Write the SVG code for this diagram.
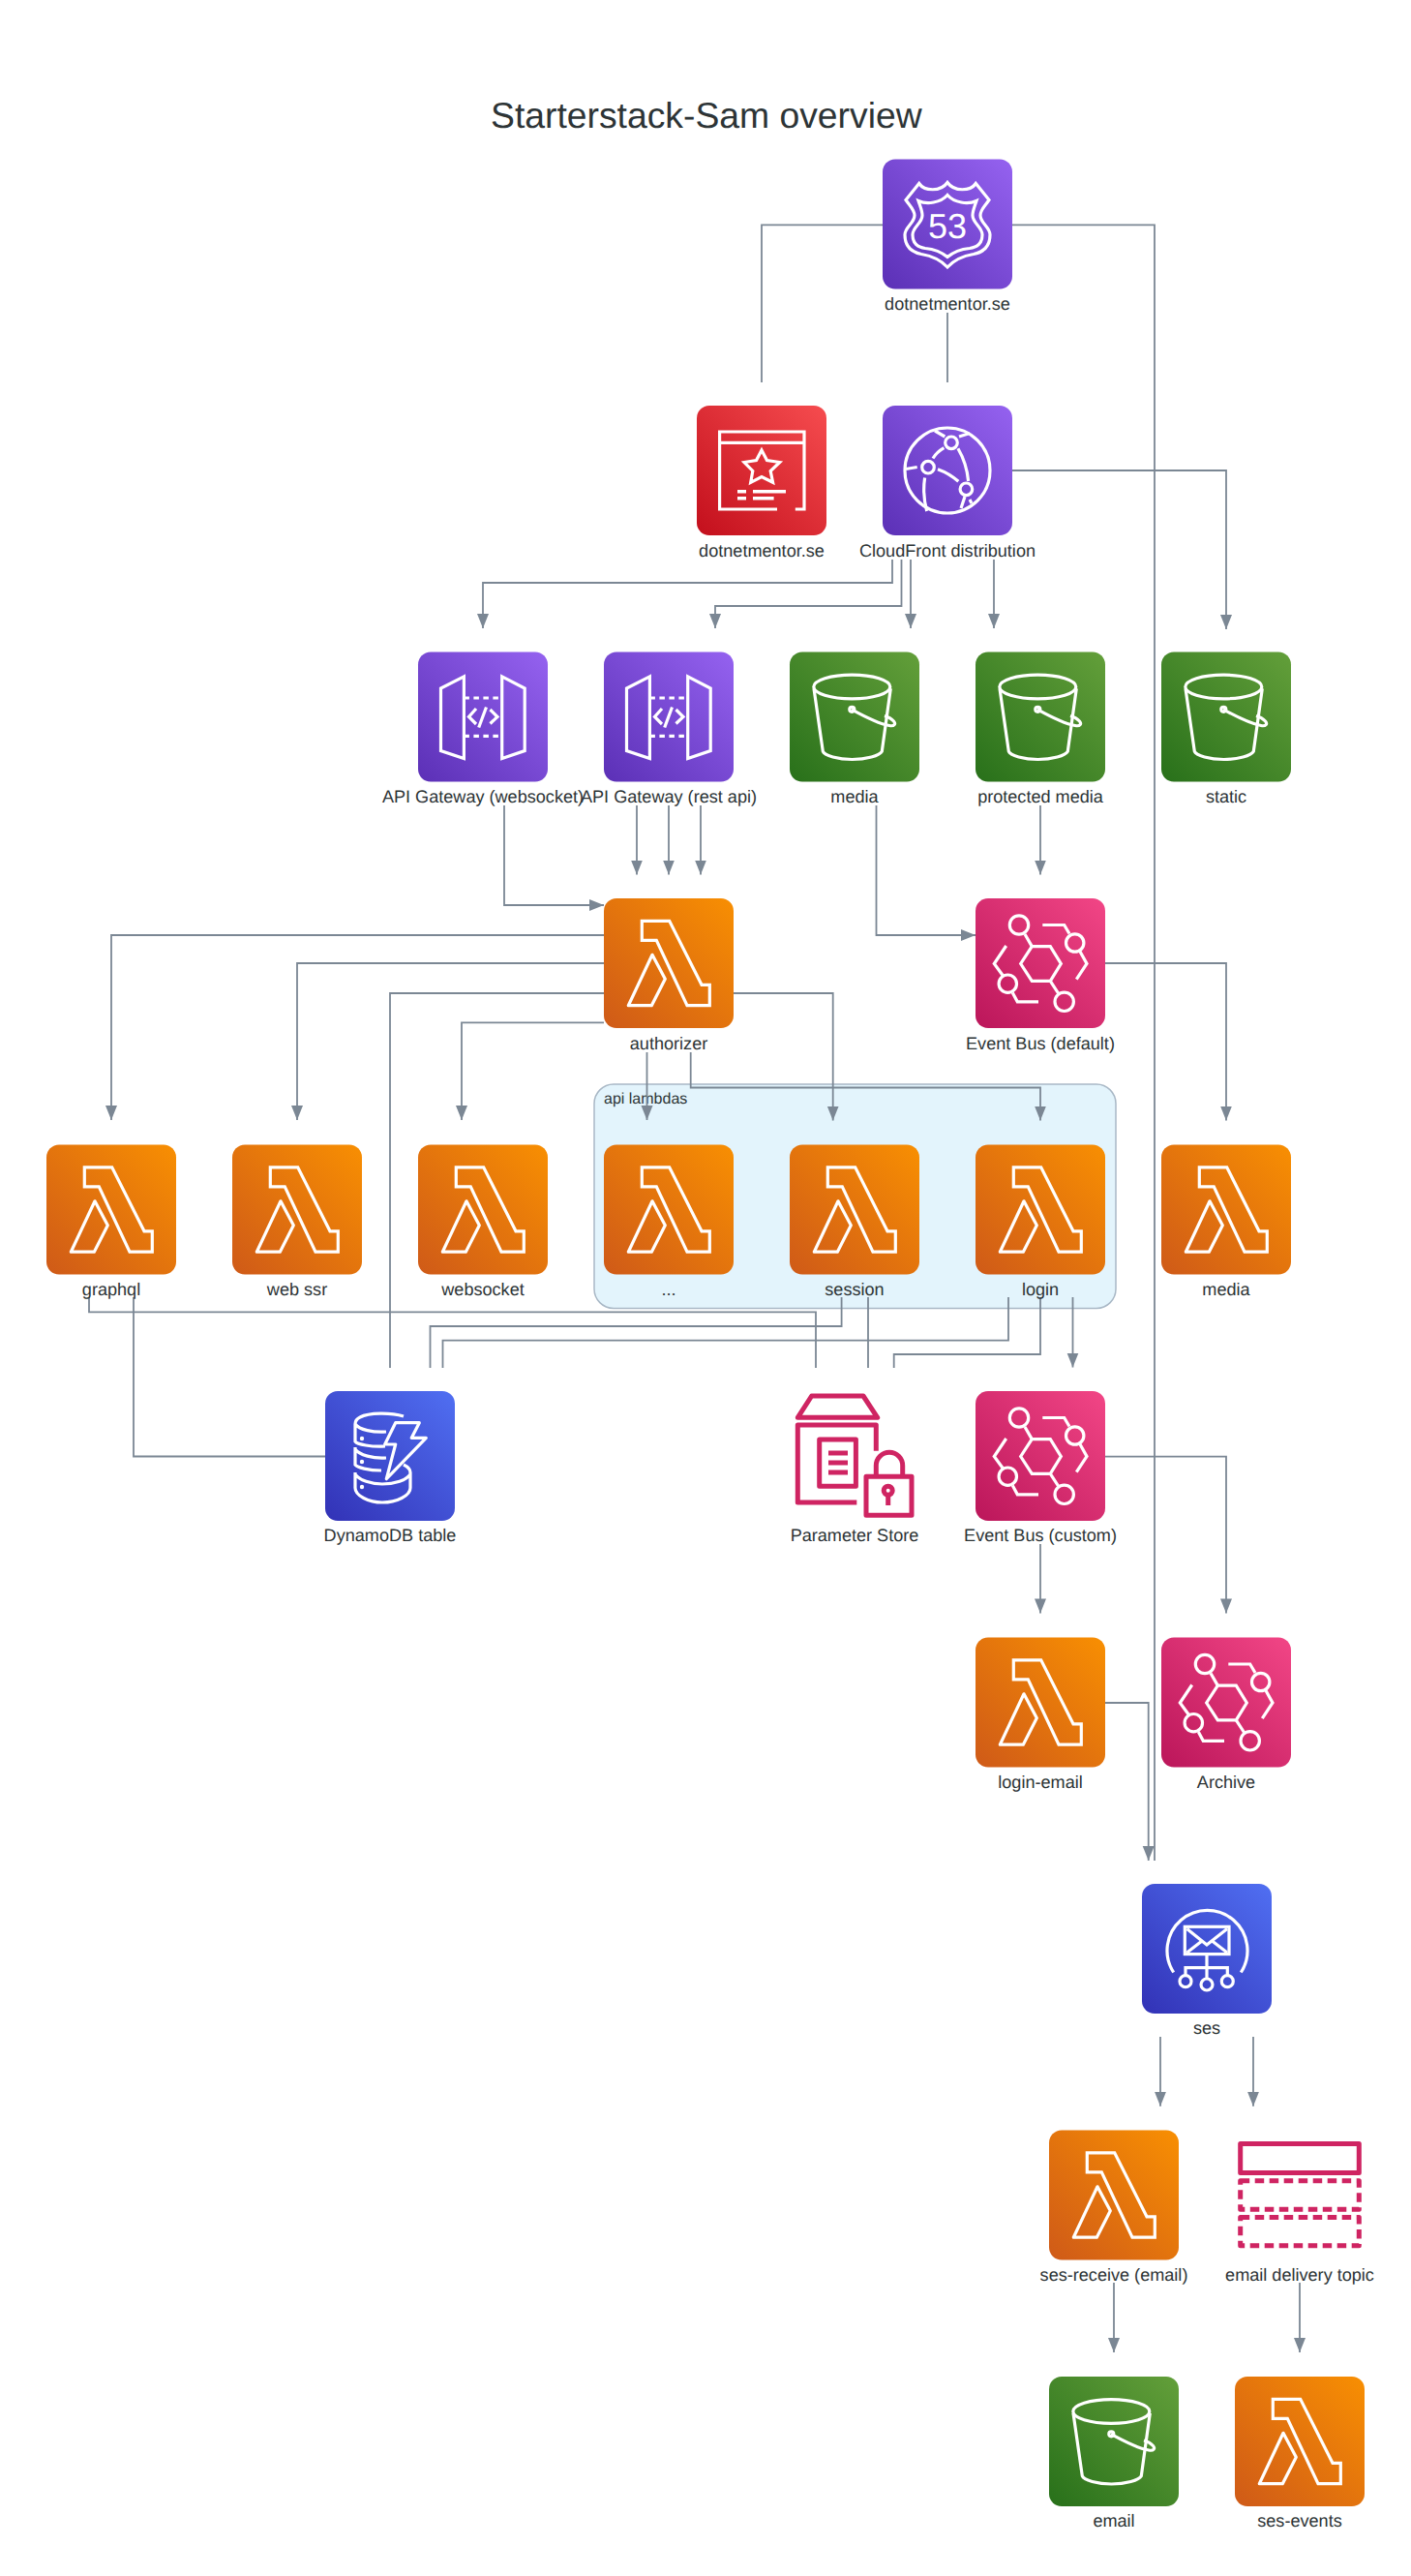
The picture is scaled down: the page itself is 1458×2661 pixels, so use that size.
<svg xmlns="http://www.w3.org/2000/svg" width="1458" height="2661" viewBox="0 0 1458 2661">
<style>
text{font-family:"Liberation Sans",Arial,sans-serif;fill:#2d3436;text-rendering:geometricPrecision}
.t{font-size:37.300px}
.l{font-size:18.100px;text-anchor:middle}
.g{font-size:16px}
.e{fill:none;stroke:#7b8794;stroke-width:1.800}
.a{marker-end:url(#arr)}
.ic{fill:none;stroke:#fff;stroke-width:3.200;stroke-linejoin:miter}
.ps{fill:none;stroke:#cf2462;stroke-width:5;stroke-linejoin:round}
.d53{font-size:36px;text-anchor:middle;fill:#fff}
.bl{fill:url(#gl)}.bp{fill:url(#gp)}.br{fill:url(#gr)}.bg{fill:url(#gg)}.bk{fill:url(#gk)}.bb{fill:url(#gb)}
</style>
<defs>
<marker id="arr" markerUnits="userSpaceOnUse" markerWidth="16" markerHeight="13" refX="15" refY="6.500" orient="auto"><path d="M0 .5L15 6.500L0 12.500z" fill="#7b8794"/></marker>
<linearGradient id="gl" x1="0" y1="1" x2="1" y2="0"><stop offset="0" stop-color="#cf5a18"/><stop offset="1" stop-color="#f88f02"/></linearGradient>
<linearGradient id="gp" x1="0" y1="1" x2="1" y2="0"><stop offset="0" stop-color="#5b30b6"/><stop offset="1" stop-color="#9562f0"/></linearGradient>
<linearGradient id="gr" x1="0" y1="1" x2="1" y2="0"><stop offset="0" stop-color="#c30f1c"/><stop offset="1" stop-color="#f64c4f"/></linearGradient>
<linearGradient id="gg" x1="0" y1="1" x2="1" y2="0"><stop offset="0" stop-color="#28701a"/><stop offset="1" stop-color="#639f3a"/></linearGradient>
<linearGradient id="gk" x1="0" y1="1" x2="1" y2="0"><stop offset="0" stop-color="#bb165a"/><stop offset="1" stop-color="#f24686"/></linearGradient>
<linearGradient id="gb" x1="0" y1="1" x2="1" y2="0"><stop offset="0" stop-color="#3232b6"/><stop offset="1" stop-color="#506ff2"/></linearGradient>
<rect id="bg" width="134" height="134" rx="13"/>
<g id="lambda" class="ic"><path d="M39.300 23.300H67.700L101 89.300H109.300V110.700H86L54.300 43.300H39.300Z"/><path d="M50 58.300L63.300 83.300L49.300 110.700H25.300Z" stroke-linejoin="round"/></g>
<g id="s3" class="ic"><ellipse cx="64.300" cy="36" rx="39.500" ry="12.300"/><path d="M25 37.700L34.300 102.700C36 107 50 111 64.500 111C79 111 93 107 95.300 102.700L104.300 37.700"/><circle cx="64.300" cy="59.300" r="2.500"/><path d="M64 59.300C78 67 92 74 103 76C108 77 110 74.500 107.500 71.500C105 68.800 101 66.800 98 66"/></g>
<g id="api" class="ic"><path d="M47.400 25.400L23.500 37.500V102L47.400 110Z"/><path d="M86.700 25.400L110.200 37.500V102L86.700 110Z"/><path d="M47.400 47.500H86.700M47.400 86.800H86.700" stroke-dasharray="5.500 4.500"/><path d="M60 58.500L52.500 67L60 74.500M70.500 57L62.700 78M74.500 59.500L82 67L74.500 74"/></g>
<g id="eb" class="ic"><path d="M58.300 49.600H77.300L88.300 67.500L77.300 85.400H58.300L46.700 67.500Z"/><circle cx="45" cy="27.500" r="9.700"/><circle cx="102.700" cy="46" r="9.200"/><circle cx="33.300" cy="88.200" r="9.200"/><circle cx="91.700" cy="106.800" r="9.700"/><path d="M51 37L58.300 49.600M77.300 85.400L85.500 98M69.300 27.500H91.700L97 36.500M107.500 54L115 67.500L104.300 83.600M65 106.800H43.300L38.300 97.500M28.500 80L19.300 67.500L31.700 49"/></g>
</defs>
<rect width="1458" height="2661" fill="#fff"/>
<text class="t" x="507" y="132">Starterstack-Sam overview</text>
<g id="group-api-lambdas"><rect x="614" y="1120" width="539" height="231.500" rx="20" fill="#e3f4fc" stroke="#a9b8c6" stroke-width="1.500"/><text class="g" x="624" y="1140">api lambdas</text></g>
<g id="connectors">
<path class="e" d="M912 232.300H787V395"/>
<path class="e" d="M979 323V395"/>
<path class="e" d="M1046 232.300H1193V1922"/>
<path class="e a" d="M1046 486H1267V650"/>
<path class="e a" d="M922 578V602H499V649"/>
<path class="e a" d="M931.500 578V626H739V649"/>
<path class="e a" d="M941 578V649"/>
<path class="e a" d="M1027 578V649"/>
<path class="e a" d="M521 832V935H624"/>
<path class="e a" d="M658 832V903.500"/>
<path class="e a" d="M691 832V903.500"/>
<path class="e a" d="M724 832V903.500"/>
<path class="e a" d="M905.500 832V966H1008"/>
<path class="e a" d="M1075 832V903.500"/>
<path class="e a" d="M624 966H115V1157"/>
<path class="e a" d="M624 995H307V1157"/>
<path class="e" d="M624 1026H403V1413"/>
<path class="e a" d="M624 1056.400H477V1157"/>
<path class="e a" d="M758 1026H860.700V1157.500"/>
<path class="e a" d="M668.500 1087V1157"/>
<path class="e a" d="M713.700 1087V1123.500H1075V1157.500"/>
<path class="e a" d="M1142 995H1267V1157.500"/>
<path class="e" d="M92 1340V1355.400H843V1413"/>
<path class="e" d="M138 1340V1504.500H336"/>
<path class="e" d="M869.600 1340V1370H444.500V1413"/>
<path class="e" d="M897 1340V1413"/>
<path class="e" d="M1042 1340V1384.600H457.500V1413"/>
<path class="e" d="M1075 1340V1399H923.700V1413"/>
<path class="e a" d="M1108.500 1340V1412.500"/>
<path class="e a" d="M1075 1595V1666.400"/>
<path class="e a" d="M1142 1504.600H1267V1666.400"/>
<path class="e a" d="M1142 1759H1186.700V1922"/>
<path class="e a" d="M1199 2104V2175.700"/>
<path class="e a" d="M1295 2104V2175.700"/>
<path class="e a" d="M1151 2358V2430"/>
<path class="e a" d="M1343 2358V2430"/>
</g>
<g id="route53" transform="translate(912,164.500)"><use href="#bg" class="bp"/><g class="ic"><path d="M37.700 25C43 33 60 34 67 24C74 34 91 33 96.300 25L110 42C106 48 101 52 101 58C101 66 111 70 111 78C111 90 104 96 94 98C82 100 74 104 67 111.500C60 104 52 100 40 98C30 96 23 90 23 78C23 70 33 66 33 58C33 52 28 48 24 42Z"/><path d="M37 43C46 47 60 45 67 37C74 45 88 47 97 43C95 49 93 53 93 58C93 66 103 70 103 78C103 87 97 91 90 92C80 93 73 96 67 101C61 96 54 93 44 92C37 91 31 87 31 78C31 70 41 66 41 58C41 53 39 49 37 43Z"/></g><text class="d53" x="67" y="81">53</text></g>
<g id="dotnetmentor-cert" transform="translate(720,419)"><use href="#bg" class="br"/><g class="ic"><path d="M83 107H23.600V27H111V107H101.800M23.600 38.300H111"/><path d="M67 46L72.500 56.500L85.700 58.500L76.200 67.500L78.600 79.300L67 73.500L55.700 79.300L57.800 67.500L49 58.500L61.500 56.500Z"/><path d="M42 88.700H51M58 88.700H92M42 95.700H51M58 95.700H79.600" stroke-width="3.600"/></g></g>
<g id="cloudfront" transform="translate(912,419)"><use href="#bg" class="bp"/><g class="ic"><circle cx="67" cy="67" r="44"/><circle cx="71" cy="38.300" r="6.300"/><circle cx="47" cy="63.700" r="6.300"/><circle cx="86.400" cy="86.300" r="6.300"/><path d="M63.400 43.700Q56 48 52 54.500M77.900 44.300Q87 60 88.600 78M57 65.700Q69 70 78.300 78.300M24 65.500L35.700 63.500M43.600 74.500Q41 92 45.700 109M54 26L64.300 32M79 32L90 28.500M85 94L81 106M90 97L92 101"/></g></g>
<g id="apigw-ws" transform="translate(432,673.500)"><use href="#bg" class="bp"/><use href="#api"/></g>
<g id="apigw-rest" transform="translate(624,673.500)"><use href="#bg" class="bp"/><use href="#api"/></g>
<g id="s3-media" transform="translate(816,673.500)"><use href="#bg" class="bg"/><use href="#s3"/></g>
<g id="s3-protected" transform="translate(1008,673.500)"><use href="#bg" class="bg"/><use href="#s3"/></g>
<g id="s3-static" transform="translate(1200,673.500)"><use href="#bg" class="bg"/><use href="#s3"/></g>
<g id="authorizer" transform="translate(624,928)"><use href="#bg" class="bl"/><use href="#lambda"/></g>
<g id="eventbus-default" transform="translate(1008,928)"><use href="#bg" class="bk"/><use href="#eb"/></g>
<g id="graphql" transform="translate(48,1182.500)"><use href="#bg" class="bl"/><use href="#lambda"/></g>
<g id="web-ssr" transform="translate(240,1182.500)"><use href="#bg" class="bl"/><use href="#lambda"/></g>
<g id="websocket" transform="translate(432,1182.500)"><use href="#bg" class="bl"/><use href="#lambda"/></g>
<g id="api-more" transform="translate(624,1182.500)"><use href="#bg" class="bl"/><use href="#lambda"/></g>
<g id="session" transform="translate(816,1182.500)"><use href="#bg" class="bl"/><use href="#lambda"/></g>
<g id="login" transform="translate(1008,1182.500)"><use href="#bg" class="bl"/><use href="#lambda"/></g>
<g id="media-fn" transform="translate(1200,1182.500)"><use href="#bg" class="bl"/><use href="#lambda"/></g>
<g id="dynamodb" transform="translate(336,1437)"><use href="#bg" class="bb"/><g class="ic"><path d="M81 26C68 22 45 22 36 27C32 29 31 31 31 34V52C33 55 48 58 62 57M31 34C35 40 50 43 63 42"/><path d="M31 58V76C33 79 45 82 58 82M31 60C35 66 50 70 63 69"/><path d="M31 84V100C31 108 45 115 59 115C74 115 88 108 88 100V84C88 80 85 78 81 76M31 86C35 92 48 96 59 96C72 96 84 92 88 86"/><path d="M72.700 32.700H97.300L89.300 48.300H104.300L63.300 90.700L72.700 55H61.700Z" stroke-linejoin="round"/></g><g fill="#fff"><circle cx="38" cy="49" r="2.200"/><circle cx="38" cy="73" r="2.200"/><circle cx="38" cy="99" r="2.200"/></g></g>
<g id="parameter-store" transform="translate(816,1437)"><g class="ps"><path d="M22.700 5H76L90.700 27.300H8.300Z"/><path d="M89.300 61.700V35H8.300V115H69.300"/><rect x="30.700" y="50" width="37.700" height="48.300"/><path d="M40 64H60M40 74H60M40 84H60"/><rect x="79" y="88.300" width="47" height="40"/><path d="M89.300 88.300V77A13.700 13.700 0 0 1 116.700 77V88.300"/><circle cx="101.700" cy="102.700" r="4.500"/><path d="M101.700 107V118"/></g></g>
<g id="eventbus-custom" transform="translate(1008,1437)"><use href="#bg" class="bk"/><use href="#eb"/></g>
<g id="login-email" transform="translate(1008,1691.500)"><use href="#bg" class="bl"/><use href="#lambda"/></g>
<g id="archive" transform="translate(1200,1691.500)"><use href="#bg" class="bk"/><use href="#eb"/></g>
<g id="ses" transform="translate(1180,1946)"><use href="#bg" class="bb"/><g class="ic"><path d="M32.700 91.500A41.500 41.500 0 1 1 102.300 91.500"/><rect x="44.300" y="44.300" width="45.700" height="28.300"/><path d="M46.500 46.500L67 63L88 46.500M46.500 71L62 59M88 71L72.500 59M67 72.700V98M45 95V86.700H88.300V95"/><circle cx="45" cy="100.700" r="6"/><circle cx="67" cy="104" r="6"/><circle cx="88.300" cy="100.700" r="6"/></g></g>
<g id="ses-receive" transform="translate(1084,2200.500)"><use href="#bg" class="bl"/><use href="#lambda"/></g>
<g id="email-topic" transform="translate(1276,2200.500)"><g fill="none" stroke="#cf2462" stroke-width="5" stroke-linejoin="round"><rect x="5.700" y="14" width="122.600" height="30"/><rect x="5.700" y="52.300" width="122.600" height="29.400" stroke-dasharray="9.500 5.500"/><rect x="5.700" y="90" width="122.600" height="29.300" stroke-dasharray="9.500 5.500"/></g></g>
<g id="s3-email" transform="translate(1084,2455)"><use href="#bg" class="bg"/><use href="#s3"/></g>
<g id="ses-events" transform="translate(1276,2455)"><use href="#bg" class="bl"/><use href="#lambda"/></g>
<g id="labels">
<text class="l" x="979" y="320">dotnetmentor.se</text>
<text class="l" x="787" y="575">dotnetmentor.se</text>
<text class="l" x="979" y="575">CloudFront distribution</text>
<text class="l" x="499" y="829">API Gateway (websocket)</text>
<text class="l" x="691" y="829">API Gateway (rest api)</text>
<text class="l" x="883" y="829">media</text>
<text class="l" x="1075" y="829">protected media</text>
<text class="l" x="1267" y="829">static</text>
<text class="l" x="691" y="1084">authorizer</text>
<text class="l" x="1075" y="1084">Event Bus (default)</text>
<text class="l" x="115" y="1338">graphql</text>
<text class="l" x="307" y="1338">web ssr</text>
<text class="l" x="499" y="1338">websocket</text>
<text class="l" x="691" y="1338">...</text>
<text class="l" x="883" y="1338">session</text>
<text class="l" x="1075" y="1338">login</text>
<text class="l" x="1267" y="1338">media</text>
<text class="l" x="403" y="1592">DynamoDB table</text>
<text class="l" x="883" y="1592">Parameter Store</text>
<text class="l" x="1075" y="1592">Event Bus (custom)</text>
<text class="l" x="1075" y="1847">login-email</text>
<text class="l" x="1267" y="1847">Archive</text>
<text class="l" x="1247" y="2101">ses</text>
<text class="l" x="1151" y="2356">ses-receive (email)</text>
<text class="l" x="1343" y="2356">email delivery topic</text>
<text class="l" x="1151" y="2610">email</text>
<text class="l" x="1343" y="2610">ses-events</text>
</g>
</svg>
